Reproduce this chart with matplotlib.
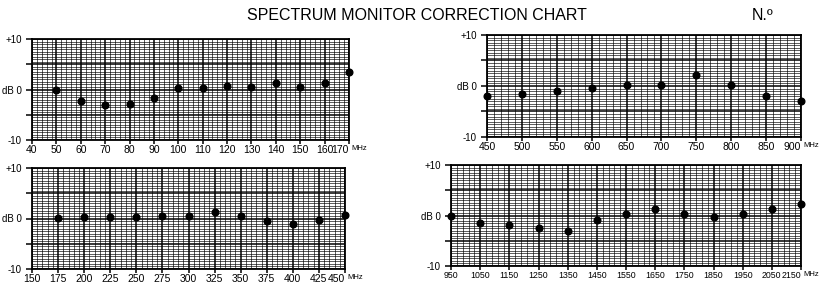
import matplotlib
matplotlib.use('Agg')
import matplotlib.pyplot as plt
import numpy as np

plt.rcParams['font.family'] = ['Liberation Sans', 'DejaVu Sans']

# correction values (dB)
band1_mhz = [50, 60, 70, 80, 90, 100, 110, 120, 130, 140, 150, 160, 170]
band1_db = [0.0, -2.2, -3.1, -2.9, -1.7, 0.2, 0.3, 0.7, 0.5, 1.3, 0.4, 1.3, 3.4]

band2_mhz = [450, 500, 550, 600, 650, 700, 750, 800, 850, 900]
band2_db = [-1.9, -1.5, -0.9, -0.3, 0.2, 0.1, 2.1, 0.1, -1.9, -2.9]

band3_mhz = [175, 200, 225, 250, 275, 300, 325, 350, 375, 400, 425, 450]
band3_db = [0.1, 0.2, 0.3, 0.3, 0.4, 0.45, 1.3, 0.4, -0.4, -1.0, -0.3, 0.6]

band4_mhz = [950, 1050, 1150, 1250, 1350, 1450, 1550, 1650, 1750, 1850, 1950, 2050, 2150]
band4_db = [0.0, -1.4, -1.8, -2.4, -3.0, -0.8, 0.2, 1.2, 0.3, -0.3, 0.3, 1.3, 2.3]

W, H = 826, 285


def make_panel(fig, box, xmin, xmax, major, minor, freqs, dbs, xsize=7.5):
    # box is (left, top, right, bottom) in pixels
    left, top, right, bottom = box
    ax = fig.add_axes([left / W, 1 - bottom / H, (right - left) / W, (bottom - top) / H])
    ax.set_xlim(xmin, xmax)
    ax.set_ylim(-10, 10)

    ax.set_xticks(np.arange(xmin, xmax + 1, major))
    ax.set_xticks(np.arange(xmin, xmax + 1, minor), minor=True)
    ax.set_yticks(np.arange(-10, 10.1, 0.5), minor=True)
    ax.set_yticks([-10, -5, 0, 5, 10])
    ax.set_yticklabels(['-10', '', 'dB 0', '', '+10'])

    ax.grid(which='minor', color='black', linewidth=0.45)
    ax.grid(which='major', color='black', linewidth=1.1)

    for side in ax.spines.values():
        side.set_linewidth(1.3)

    ax.tick_params(which='minor', length=0)
    ax.tick_params(axis='x', which='major', length=3, width=1.1, pad=0.5, labelsize=xsize)
    ax.tick_params(axis='y', which='major', length=4, width=1.1, pad=3.5, labelsize=7)

    # the last frequency label sits just inside the right edge, followed by "MHz"
    ax.get_xticklabels()[-1].set_horizontalalignment('right')

    ax.plot(freqs, dbs, 'ko', markersize=4.8, zorder=3, clip_on=False)

    ax.annotate('MHz', xy=(1, 0), xycoords='axes fraction', xytext=(1.5, -3.5),
                textcoords='offset points', ha='left', va='top', fontsize=5.5)
    return ax


fig = plt.figure(figsize=(W / 100, H / 100), dpi=100)

make_panel(fig, (32, 39, 349, 140), 40, 170, 10, 2, band1_mhz, band1_db)
make_panel(fig, (487, 35, 801, 137), 450, 900, 50, 10, band2_mhz, band2_db)
make_panel(fig, (32, 168, 345, 269), 150, 450, 25, 5, band3_mhz, band3_db)
make_panel(fig, (451, 165, 801, 266), 950, 2150, 100, 20, band4_mhz, band4_db, xsize=6.3)

fig.text(417 / W, 1 - 16 / H, 'SPECTRUM MONITOR CORRECTION CHART',
         ha='center', va='center', fontsize=11.5)
fig.text(752 / W, 1 - 16 / H, 'N.º', ha='left', va='center', fontsize=11.5)

fig.savefig('out.png', dpi=100)
